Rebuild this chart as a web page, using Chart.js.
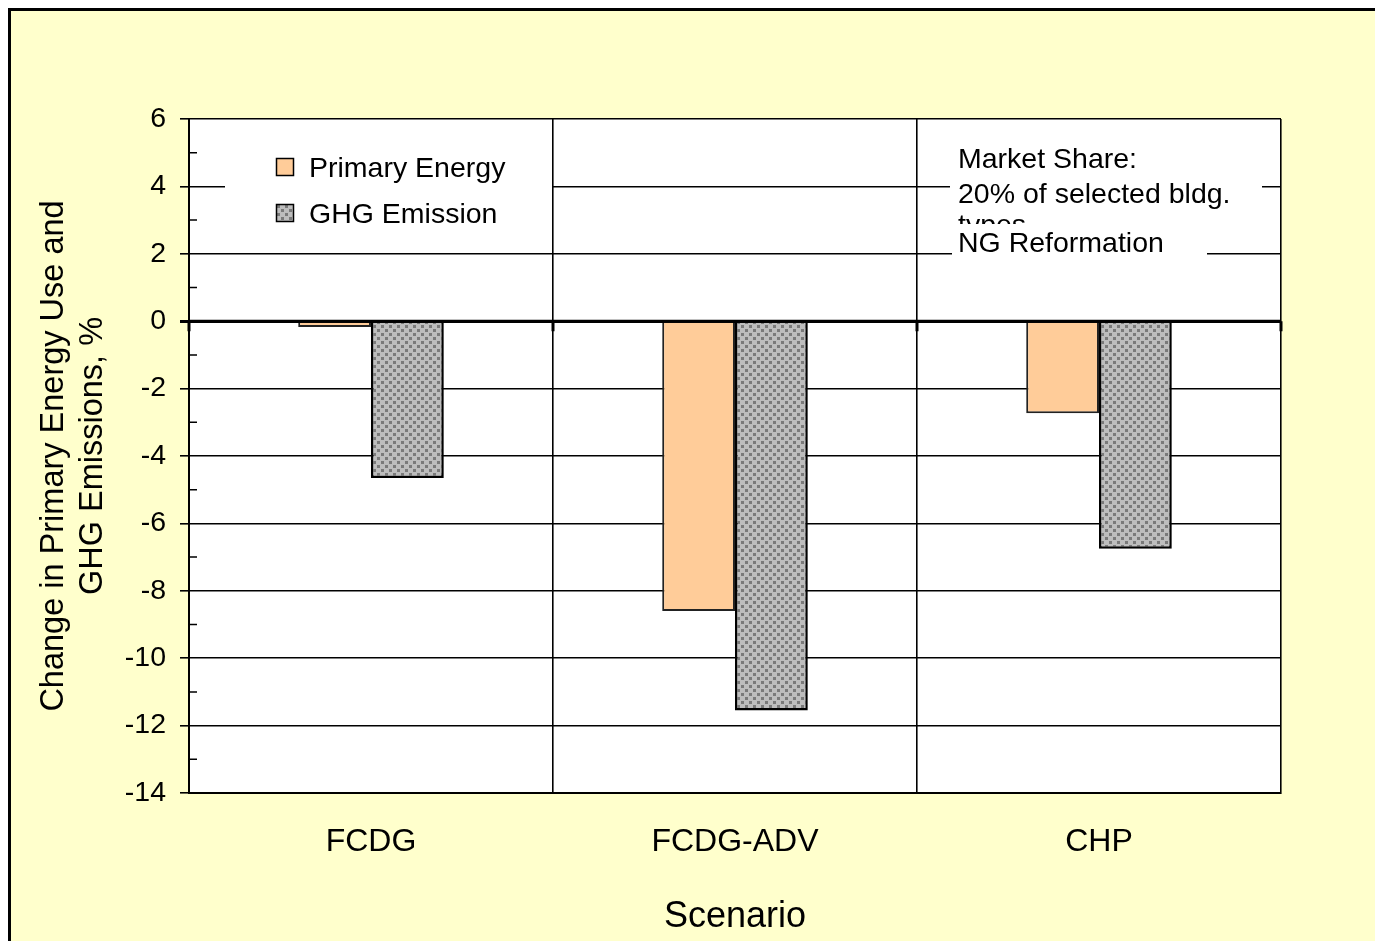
<!DOCTYPE html>
<html>
<head>
<meta charset="utf-8">
<script src="https://cdn.jsdelivr.net/npm/chart.js@4/dist/chart.umd.min.js"></script>
<style>
  html, body { margin: 0; padding: 0; background: #ffffff; }
  #wrap { width: 1375px; height: 941px; position: relative; overflow: hidden; }
  canvas { display: block; }
</style>
</head>
<body>
<div id="wrap"><canvas id="c" width="1375" height="941"></canvas></div>
<script>
// Scenario results: change in primary energy use and GHG emissions, %
const categories = ['FCDG', 'FCDG-ADV', 'CHP'];
const primaryEnergy = [-0.17, -8.6, -2.73];
const ghgEmission = [-4.65, -11.55, -6.75];
const seriesNames = ['Primary Energy', 'GHG Emission'];
const yMin = -14;
const yMax = 6;
const yStep = 2;
const xTitle = 'Scenario';
const yTitle = ['Change in Primary Energy Use and', 'GHG Emissions, %'];
const noteLines = ['Market Share:', '20% of selected bldg.', 'types'];
const noteSource = 'NG Reformation';

const FONT = '"Liberation Sans", Arial, Helvetica, sans-serif';
const canvas = document.getElementById('c');
const ctx0 = canvas.getContext('2d');

// grey stipple fill for the emission bars
function stipple() {
  const t = document.createElement('canvas');
  t.width = 8; t.height = 8;
  const g = t.getContext('2d');
  g.fillStyle = '#BDBDBD';
  g.fillRect(0, 0, 8, 8);
  g.fillStyle = '#7A7A7A';
  g.fillRect(1, 1, 3, 3);
  g.fillRect(5, 5, 3, 3);
  return ctx0.createPattern(t, 'repeat');
}
const ghgFill = stipple();

// page frame, pale yellow panel and white plot area
const backdrop = {
  id: 'backdrop',
  beforeDraw(chart) {
    const c = chart.ctx, a = chart.chartArea;
    c.save();
    c.fillStyle = '#ffffff';
    c.fillRect(0, 0, chart.width, chart.height);
    c.fillStyle = '#000000';
    c.fillRect(8, 8, chart.width, chart.height);
    c.fillStyle = '#FFFFCC';
    c.fillRect(11, 11, chart.width, chart.height);
    c.fillStyle = '#ffffff';
    c.fillRect(a.left, a.top, a.right - a.left, a.bottom - a.top);
    c.restore();
  }
};

// zero axis, minor ticks, legend box and note boxes
const overlay = {
  id: 'overlay',
  afterDatasetsDraw(chart) {
    const c = chart.ctx, a = chart.chartArea;
    const xs = chart.scales.x, ys = chart.scales.y;
    const y0 = ys.getPixelForValue(0);
    c.save();

    // category axis along zero
    c.strokeStyle = '#000';
    c.lineWidth = 3;
    c.beginPath();
    c.moveTo(a.left, y0);
    c.lineTo(a.right, y0);
    c.stroke();
    const edges = [a.left];
    for (let i = 0; i < categories.length - 1; i++) {
      edges.push((xs.getPixelForValue(i) + xs.getPixelForValue(i + 1)) / 2);
    }
    edges.push(a.right);
    c.beginPath();
    edges.forEach(x => { c.moveTo(x, y0); c.lineTo(x, y0 + 10); });
    c.stroke();

    // minor ticks inside the value axis
    c.lineWidth = 1.5;
    c.beginPath();
    for (let v = yMin + yStep / 2; v < yMax; v += yStep) {
      const y = ys.getPixelForValue(v);
      c.moveTo(a.left, y);
      c.lineTo(a.left + 8, y);
    }
    c.stroke();

    // legend
    c.fillStyle = '#ffffff';
    c.fillRect(225, 140, 327, 100);
    c.font = '28.5px ' + FONT;
    c.textBaseline = 'middle';
    c.textAlign = 'left';
    chart.data.datasets.forEach((ds, i) => {
      const yy = 167 + i * 46;
      c.fillStyle = ds.backgroundColor;
      c.fillRect(276, yy - 9, 18, 18);
      c.strokeStyle = '#000';
      c.lineWidth = 1.5;
      c.strokeRect(276.5, yy - 8.5, 17, 17);
      c.fillStyle = '#000';
      c.fillText(ds.label, 309, yy + 2);
    });

    // note boxes: the source label box sits over the last note line
    c.fillStyle = '#ffffff';
    c.fillRect(950, 140, 312, 84);
    c.fillStyle = '#000';
    const noteY = [160, 195, 226];
    noteLines.forEach((t, i) => c.fillText(t, 958, noteY[i]));
    c.fillStyle = '#ffffff';
    c.fillRect(952, 224, 255, 39);
    c.fillStyle = '#000';
    c.fillText(noteSource, 958, 244);

    c.restore();
  }
};

new Chart(canvas, {
  type: 'bar',
  data: {
    labels: categories,
    datasets: [
      {
        label: seriesNames[0],
        data: primaryEnergy,
        backgroundColor: '#FFCC99',
        borderColor: '#222222',
        borderWidth: 2
      },
      {
        label: seriesNames[1],
        data: ghgEmission,
        backgroundColor: ghgFill,
        borderColor: '#000000',
        borderWidth: 2.5
      }
    ]
  },
  options: {
    responsive: false,
    animation: false,
    devicePixelRatio: 1,
    layout: { padding: { top: 119, right: 94, left: 0, bottom: 0 } },
    datasets: { bar: { categoryPercentage: 0.4, barPercentage: 1.0 } },
    plugins: {
      legend: { display: false },
      tooltip: { enabled: false }
    },
    scales: {
      x: {
        offset: true,
        afterFit(s) { s.height = 148; },
        grid: { offset: true, color: '#000', lineWidth: 1.6, drawTicks: false },
        border: { display: true, color: '#000', width: 2 },
        ticks: { color: '#000', padding: 30, font: { family: FONT, size: 32 } },
        title: {
          display: true, text: xTitle, color: '#000',
          font: { family: FONT, size: 36 },
          padding: { top: 0, bottom: 2 }
        }
      },
      y: {
        min: yMin,
        max: yMax,
        afterFit(s) { s.width = 189; },
        grid: {
          color: '#000',
          lineWidth: c => (c.tick && c.tick.value === 0 ? 3 : 1.6),
          tickLength: 9,
          tickColor: '#000'
        },
        border: { display: true, color: '#000', width: 2 },
        ticks: {
          stepSize: yStep, color: '#000', padding: 14,
          font: { family: FONT, size: 28.5 }
        },
        title: {
          display: true, text: yTitle, color: '#000',
          font: { family: FONT, size: 32.5 },
          padding: { top: 35, bottom: 0 }
        }
      }
    }
  },
  plugins: [backdrop, overlay]
});
</script>
</body>
</html>
